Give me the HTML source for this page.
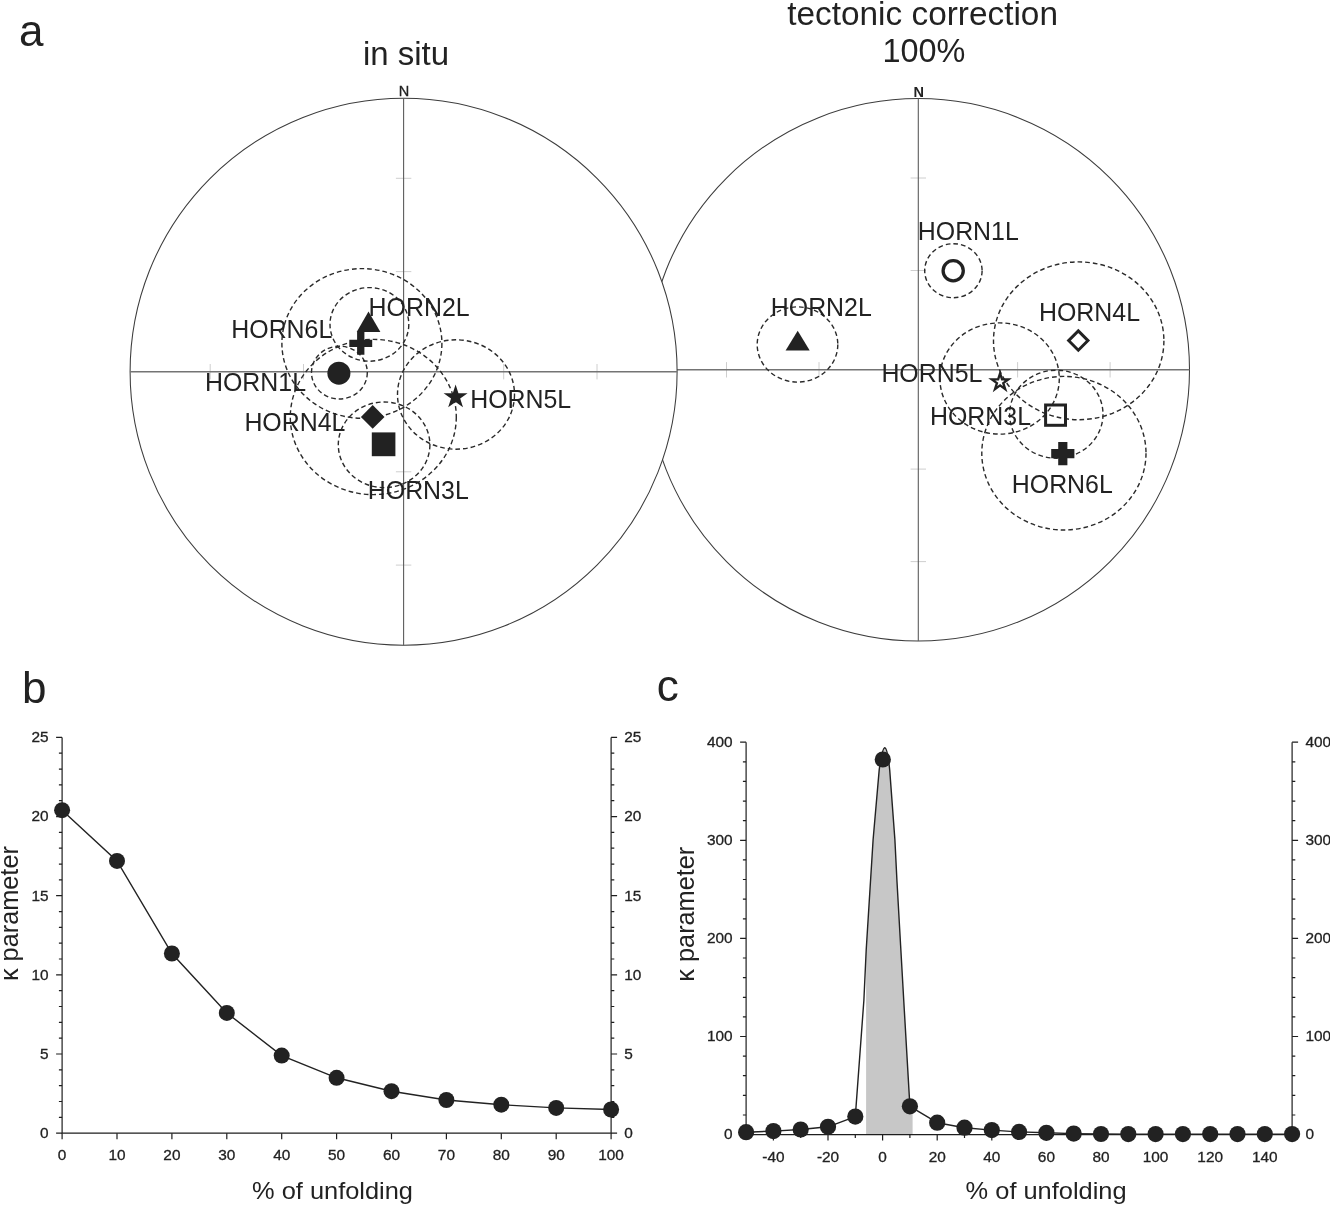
<!DOCTYPE html>
<html lang="en"><head><meta charset="utf-8"><title>Fold test figure</title>
<style>
html,body{margin:0;padding:0;background:#fff;}
body{width:1330px;height:1205px;overflow:hidden;}
svg{display:block;will-change:transform;}
text{font-family:"Liberation Sans", Arial, Helvetica, sans-serif;fill:#222;}
.lab{font-size:24.9px;}
.axl{font-size:23px;}
.tick{font-size:15.4px;stroke:#222;stroke-width:0.3px;}
.yl{font-size:25.3px;}
.ttl{font-size:33px;}
.pan{font-size:44px;}
.dash{fill:none;stroke:#2a2a2a;stroke-width:1.4;stroke-dasharray:4.7 3;}
.ax{stroke:#1e1e1e;stroke-width:1.2;fill:none;}
</style></head><body>
<svg width="1330" height="1205" viewBox="0 0 1330 1205">
<rect x="0" y="0" width="1330" height="1205" fill="#fff"/>
<circle cx="918.3" cy="369.8" r="271.2" fill="#fff" stroke="#3c3c3c" stroke-width="1.05"/>
<line x1="819.0" y1="362.1" x2="819.0" y2="377.5" stroke="#c8c8c8" stroke-width="0.9"/>
<line x1="910.6" y1="270.5" x2="926.0" y2="270.5" stroke="#c8c8c8" stroke-width="0.9"/>
<line x1="1017.6" y1="362.1" x2="1017.6" y2="377.5" stroke="#c8c8c8" stroke-width="0.9"/>
<line x1="910.6" y1="469.1" x2="926.0" y2="469.1" stroke="#c8c8c8" stroke-width="0.9"/>
<line x1="726.5" y1="362.1" x2="726.5" y2="377.5" stroke="#c8c8c8" stroke-width="0.9"/>
<line x1="910.6" y1="178.0" x2="926.0" y2="178.0" stroke="#c8c8c8" stroke-width="0.9"/>
<line x1="1110.1" y1="362.1" x2="1110.1" y2="377.5" stroke="#c8c8c8" stroke-width="0.9"/>
<line x1="910.6" y1="561.6" x2="926.0" y2="561.6" stroke="#c8c8c8" stroke-width="0.9"/>
<line x1="647.1" y1="369.8" x2="1189.5" y2="369.8" stroke="#747474" stroke-width="1.5"/>
<line x1="918.3" y1="98.6" x2="918.3" y2="641.0" stroke="#5c5c5c" stroke-width="1.1"/>
<circle cx="403.6" cy="371.7" r="273.5" fill="#fff" stroke="#3c3c3c" stroke-width="1.05"/>
<line x1="303.5" y1="364.0" x2="303.5" y2="379.4" stroke="#c8c8c8" stroke-width="0.9"/>
<line x1="395.9" y1="271.6" x2="411.3" y2="271.6" stroke="#c8c8c8" stroke-width="0.9"/>
<line x1="503.7" y1="364.0" x2="503.7" y2="379.4" stroke="#c8c8c8" stroke-width="0.9"/>
<line x1="395.9" y1="471.8" x2="411.3" y2="471.8" stroke="#c8c8c8" stroke-width="0.9"/>
<line x1="210.2" y1="364.0" x2="210.2" y2="379.4" stroke="#c8c8c8" stroke-width="0.9"/>
<line x1="395.9" y1="178.3" x2="411.3" y2="178.3" stroke="#c8c8c8" stroke-width="0.9"/>
<line x1="597.0" y1="364.0" x2="597.0" y2="379.4" stroke="#c8c8c8" stroke-width="0.9"/>
<line x1="395.9" y1="565.1" x2="411.3" y2="565.1" stroke="#c8c8c8" stroke-width="0.9"/>
<line x1="130.1" y1="371.7" x2="677.1" y2="371.7" stroke="#747474" stroke-width="1.5"/>
<line x1="403.6" y1="98.2" x2="403.6" y2="645.2" stroke="#5c5c5c" stroke-width="1.1"/>
<ellipse class="dash" cx="361.9" cy="343.4" rx="80.0" ry="74.8"/>
<ellipse class="dash" cx="369.4" cy="324.4" rx="39.4" ry="36.8"/>
<ellipse class="dash" cx="339.4" cy="372.6" rx="27.9" ry="26.4"/>
<ellipse class="dash" cx="373.3" cy="417.0" rx="83.0" ry="77.6"/>
<ellipse class="dash" cx="384.1" cy="444.8" rx="45.8" ry="42.8"/>
<ellipse class="dash" cx="456.0" cy="394.5" rx="58.5" ry="54.7"/>
<polygon fill="#222" points="368.5,311.6 380.4,332.0 356.7,332.0"/>
<path fill="#222" d="M357.1 331.9h7.3v7.8h7.8v7.3h-7.8v7.8h-7.3v-7.8h-7.8v-7.3h7.8z"/>
<circle cx="338.9" cy="373.2" r="11.5" fill="#222"/>
<polygon fill="#222" points="372.7,405.1 384.5,416.9 372.7,428.7 360.9,416.9"/>
<rect x="371.8" y="432.4" width="23.6" height="23.8" fill="#222"/>
<polygon fill="#222" points="455.60,384.50 458.43,393.21 467.58,393.21 460.18,398.59 463.01,407.29 455.60,401.91 448.19,407.29 451.02,398.59 443.62,393.21 452.77,393.21"/>
<text class="lab" x="368.6" y="315.6">HORN2L</text>
<text class="lab" x="231.3" y="338.4">HORN6L</text>
<text class="lab" x="205.0" y="391.4">HORN1L</text>
<text class="lab" x="244.4" y="430.7">HORN4L</text>
<text class="lab" x="470.2" y="408.0">HORN5L</text>
<text class="lab" x="367.8" y="499.0">HORN3L</text>
<ellipse class="dash" cx="953.4" cy="270.7" rx="28.7" ry="27.0"/>
<ellipse class="dash" cx="797.5" cy="344.5" rx="40.3" ry="37.6"/>
<ellipse class="dash" cx="1078.7" cy="340.8" rx="85.2" ry="78.9"/>
<ellipse class="dash" cx="999.6" cy="378.5" rx="59.7" ry="55.6"/>
<ellipse class="dash" cx="1056.3" cy="414.2" rx="46.7" ry="44.0"/>
<ellipse class="dash" cx="1063.9" cy="453.2" rx="82.1" ry="76.8"/>
<circle cx="953.2" cy="270.8" r="10.1" fill="none" stroke="#222" stroke-width="3.3"/>
<polygon fill="#222" points="797.7,330.8 809.7,350.4 785.6,350.4"/>
<polygon fill="none" stroke="#222" stroke-width="2.9" points="1078.3,330.9 1088.0,340.6 1078.3,350.3 1068.6,340.6"/>
<polygon fill="none" stroke="#222" stroke-width="2.35" stroke-linejoin="miter" points="1000.10,373.40 1002.05,379.41 1008.37,379.41 1003.26,383.13 1005.21,389.14 1000.10,385.42 994.99,389.14 996.94,383.13 991.83,379.41 998.15,379.41"/>
<rect x="1045.6" y="405.0" width="19.9" height="20.3" fill="none" stroke="#222" stroke-width="3.0"/>
<path fill="#222" d="M1058.2 442.1h9.2v7.0h7.0v9.2h-7.0v7.0h-9.2v-7.0h-7.0v-9.2h7.0z"/>
<text class="lab" x="917.8" y="239.6">HORN1L</text>
<text class="lab" x="770.8" y="315.6">HORN2L</text>
<text class="lab" x="1039.0" y="320.7">HORN4L</text>
<text class="lab" x="881.4" y="382.3">HORN5L</text>
<text class="lab" x="930.0" y="424.8">HORN3L</text>
<text class="lab" x="1011.8" y="492.5">HORN6L</text>
<text class="ttl" x="406" y="64.7" text-anchor="middle">in situ</text>
<text class="ttl" transform="translate(922.6 24.8) scale(1.03 1)" style="font-size:32.4px" text-anchor="middle">tectonic correction</text>
<text class="ttl" x="924" y="62.1" style="font-size:32.4px" text-anchor="middle">100%</text>
<text x="404" y="95.5" text-anchor="middle" style="font-size:14.5px;stroke:#222;stroke-width:0.3px">N</text>
<text x="918.8" y="96.7" text-anchor="middle" style="font-size:14.5px;font-weight:bold">N</text>
<text class="pan" x="19" y="46">a</text>
<text class="pan" x="22" y="703.4">b</text>
<text class="pan" x="656.8" y="700.8">c</text>
<path class="ax" d="M62.1 737.4V1133.2H611.1V737.4"/>
<path class="ax" d="M62.1 1133.2h-6.0M611.1 1133.2h6.0M62.1 1117.4h-3.2M611.1 1117.4h3.2M62.1 1101.5h-3.2M611.1 1101.5h3.2M62.1 1085.7h-3.2M611.1 1085.7h3.2M62.1 1069.9h-3.2M611.1 1069.9h3.2M62.1 1054.0h-6.0M611.1 1054.0h6.0M62.1 1038.2h-3.2M611.1 1038.2h3.2M62.1 1022.4h-3.2M611.1 1022.4h3.2M62.1 1006.5h-3.2M611.1 1006.5h3.2M62.1 990.7h-3.2M611.1 990.7h3.2M62.1 974.9h-6.0M611.1 974.9h6.0M62.1 959.0h-3.2M611.1 959.0h3.2M62.1 943.2h-3.2M611.1 943.2h3.2M62.1 927.4h-3.2M611.1 927.4h3.2M62.1 911.6h-3.2M611.1 911.6h3.2M62.1 895.7h-6.0M611.1 895.7h6.0M62.1 879.9h-3.2M611.1 879.9h3.2M62.1 864.1h-3.2M611.1 864.1h3.2M62.1 848.2h-3.2M611.1 848.2h3.2M62.1 832.4h-3.2M611.1 832.4h3.2M62.1 816.6h-6.0M611.1 816.6h6.0M62.1 800.7h-3.2M611.1 800.7h3.2M62.1 784.9h-3.2M611.1 784.9h3.2M62.1 769.1h-3.2M611.1 769.1h3.2M62.1 753.2h-3.2M611.1 753.2h3.2M62.1 737.4h-6.0M611.1 737.4h6.0M62.1 1133.2v6M117.0 1133.2v6M171.9 1133.2v6M226.8 1133.2v6M281.7 1133.2v6M336.6 1133.2v6M391.5 1133.2v6M446.4 1133.2v6M501.3 1133.2v6M556.2 1133.2v6M611.1 1133.2v6"/>
<text class="tick" x="48.6" y="1138.0" text-anchor="end">0</text>
<text class="tick" x="624.2" y="1138.0">0</text>
<text class="tick" x="48.6" y="1058.8" text-anchor="end">5</text>
<text class="tick" x="624.2" y="1058.8">5</text>
<text class="tick" x="48.6" y="979.7" text-anchor="end">10</text>
<text class="tick" x="624.2" y="979.7">10</text>
<text class="tick" x="48.6" y="900.5" text-anchor="end">15</text>
<text class="tick" x="624.2" y="900.5">15</text>
<text class="tick" x="48.6" y="821.4" text-anchor="end">20</text>
<text class="tick" x="624.2" y="821.4">20</text>
<text class="tick" x="48.6" y="742.2" text-anchor="end">25</text>
<text class="tick" x="624.2" y="742.2">25</text>
<text class="tick" x="62.1" y="1160.4" text-anchor="middle">0</text>
<text class="tick" x="117.0" y="1160.4" text-anchor="middle">10</text>
<text class="tick" x="171.9" y="1160.4" text-anchor="middle">20</text>
<text class="tick" x="226.8" y="1160.4" text-anchor="middle">30</text>
<text class="tick" x="281.7" y="1160.4" text-anchor="middle">40</text>
<text class="tick" x="336.6" y="1160.4" text-anchor="middle">50</text>
<text class="tick" x="391.5" y="1160.4" text-anchor="middle">60</text>
<text class="tick" x="446.4" y="1160.4" text-anchor="middle">70</text>
<text class="tick" x="501.3" y="1160.4" text-anchor="middle">80</text>
<text class="tick" x="556.2" y="1160.4" text-anchor="middle">90</text>
<text class="tick" x="611.1" y="1160.4" text-anchor="middle">100</text>
<polyline fill="none" stroke="#222" stroke-width="1.4" points="62.1,810.2 117.0,860.9 171.9,953.5 226.8,1012.9 281.7,1055.6 336.6,1077.8 391.5,1091.2 446.4,1100.0 501.3,1104.7 556.2,1107.9 611.1,1109.5"/>
<circle cx="62.1" cy="810.2" r="8.0" fill="#222"/>
<circle cx="117.0" cy="860.9" r="8.0" fill="#222"/>
<circle cx="171.9" cy="953.5" r="8.0" fill="#222"/>
<circle cx="226.8" cy="1012.9" r="8.0" fill="#222"/>
<circle cx="281.7" cy="1055.6" r="8.0" fill="#222"/>
<circle cx="336.6" cy="1077.8" r="8.0" fill="#222"/>
<circle cx="391.5" cy="1091.2" r="8.0" fill="#222"/>
<circle cx="446.4" cy="1100.0" r="8.0" fill="#222"/>
<circle cx="501.3" cy="1104.7" r="8.0" fill="#222"/>
<circle cx="556.2" cy="1107.9" r="8.0" fill="#222"/>
<circle cx="611.1" cy="1109.5" r="8.0" fill="#222"/>
<text class="axl" transform="translate(332.5 1198.7) scale(1.105 1)" text-anchor="middle">% of unfolding</text>
<text class="yl" transform="translate(18.0 913.6) rotate(-90)" text-anchor="middle">κ parameter</text>
<path fill="#c7c7c7" d="M866.1 1134.6 L866.1 951 L873.1 839.7 L879.2 769.9 C880.9 757 882.9 748 884.8 747.6 C886.7 748 888.4 757 889.7 769.9 L894.9 839.7 L896.9 880 L900.6 945.2 L904.3 1010 L909.9 1106.4 L912.6 1108.1 L912.6 1134.6 Z"/>
<path class="ax" d="M746.1 742.2V1134.6H1292.1V742.2"/>
<path class="ax" d="M746.1 1134.6h-6.0M1292.1 1134.6h6.0M746.1 1115.0h-3.2M1292.1 1115.0h3.2M746.1 1095.4h-3.2M1292.1 1095.4h3.2M746.1 1075.7h-3.2M1292.1 1075.7h3.2M746.1 1056.1h-3.2M1292.1 1056.1h3.2M746.1 1036.5h-6.0M1292.1 1036.5h6.0M746.1 1016.9h-3.2M1292.1 1016.9h3.2M746.1 997.3h-3.2M1292.1 997.3h3.2M746.1 977.6h-3.2M1292.1 977.6h3.2M746.1 958.0h-3.2M1292.1 958.0h3.2M746.1 938.4h-6.0M1292.1 938.4h6.0M746.1 918.8h-3.2M1292.1 918.8h3.2M746.1 899.2h-3.2M1292.1 899.2h3.2M746.1 879.5h-3.2M1292.1 879.5h3.2M746.1 859.9h-3.2M1292.1 859.9h3.2M746.1 840.3h-6.0M1292.1 840.3h6.0M746.1 820.7h-3.2M1292.1 820.7h3.2M746.1 801.1h-3.2M1292.1 801.1h3.2M746.1 781.4h-3.2M1292.1 781.4h3.2M746.1 761.8h-3.2M1292.1 761.8h3.2M746.1 742.2h-6.0M1292.1 742.2h6.0M746.1 1134.6v3.4M773.4 1134.6v6.0M800.7 1134.6v3.4M828.0 1134.6v6.0M855.3 1134.6v3.4M882.6 1134.6v6.0M909.9 1134.6v3.4M937.2 1134.6v6.0M964.5 1134.6v3.4M991.8 1134.6v6.0M1019.1 1134.6v3.4M1046.4 1134.6v6.0M1073.7 1134.6v3.4M1101.0 1134.6v6.0M1128.3 1134.6v3.4M1155.6 1134.6v6.0M1182.9 1134.6v3.4M1210.2 1134.6v6.0M1237.5 1134.6v3.4M1264.8 1134.6v6.0M1292.1 1134.6v3.4"/>
<text class="tick" x="732.6" y="1139.4" text-anchor="end">0</text>
<text class="tick" x="1305.4" y="1139.4">0</text>
<text class="tick" x="732.6" y="1041.3" text-anchor="end">100</text>
<text class="tick" x="1305.4" y="1041.3">100</text>
<text class="tick" x="732.6" y="943.2" text-anchor="end">200</text>
<text class="tick" x="1305.4" y="943.2">200</text>
<text class="tick" x="732.6" y="845.1" text-anchor="end">300</text>
<text class="tick" x="1305.4" y="845.1">300</text>
<text class="tick" x="732.6" y="747.0" text-anchor="end">400</text>
<text class="tick" x="1305.4" y="747.0">400</text>
<text class="tick" x="773.4" y="1162.2" text-anchor="middle">-40</text>
<text class="tick" x="828.0" y="1162.2" text-anchor="middle">-20</text>
<text class="tick" x="882.6" y="1162.2" text-anchor="middle">0</text>
<text class="tick" x="937.2" y="1162.2" text-anchor="middle">20</text>
<text class="tick" x="991.8" y="1162.2" text-anchor="middle">40</text>
<text class="tick" x="1046.4" y="1162.2" text-anchor="middle">60</text>
<text class="tick" x="1101.0" y="1162.2" text-anchor="middle">80</text>
<text class="tick" x="1155.6" y="1162.2" text-anchor="middle">100</text>
<text class="tick" x="1210.2" y="1162.2" text-anchor="middle">120</text>
<text class="tick" x="1264.8" y="1162.2" text-anchor="middle">140</text>
<path fill="none" stroke="#222" stroke-width="1.4" stroke-linejoin="round" d="M746.1 1132.2 L773.4 1131.1 L800.7 1129.5 L828.0 1126.8 L855.3 1116.6 L863.9 1000 L866.2 950 L873.1 839.7 L879.2 769.9 C880.9 757 882.9 748 884.8 747.6 C886.7 748 888.4 757 889.7 769.9 L894.9 839.7 L896.9 880 L900.6 945.2 L904.3 1010 L909.9 1106.4 L937.2 1122.7 L964.5 1127.7 L991.8 1130.1 L1019.1 1131.9 L1046.4 1132.8 L1073.7 1133.6 L1101.0 1134.0 L1128.3 1134.1 L1155.6 1134.1 L1182.9 1134.1 L1210.2 1134.1 L1237.5 1134.1 L1264.8 1134.1 L1292.1 1134.1"/>
<circle cx="746.1" cy="1132.2" r="8.1" fill="#222"/>
<circle cx="773.4" cy="1131.1" r="8.1" fill="#222"/>
<circle cx="800.7" cy="1129.5" r="8.1" fill="#222"/>
<circle cx="828.0" cy="1126.8" r="8.1" fill="#222"/>
<circle cx="855.3" cy="1116.6" r="8.1" fill="#222"/>
<circle cx="882.8" cy="759.5" r="8.1" fill="#222"/>
<circle cx="909.9" cy="1106.3" r="8.1" fill="#222"/>
<circle cx="937.2" cy="1122.7" r="8.1" fill="#222"/>
<circle cx="964.5" cy="1127.7" r="8.1" fill="#222"/>
<circle cx="991.8" cy="1130.1" r="8.1" fill="#222"/>
<circle cx="1019.1" cy="1131.9" r="8.1" fill="#222"/>
<circle cx="1046.4" cy="1132.8" r="8.1" fill="#222"/>
<circle cx="1073.7" cy="1133.6" r="8.1" fill="#222"/>
<circle cx="1101.0" cy="1134.0" r="8.1" fill="#222"/>
<circle cx="1128.3" cy="1134.1" r="8.1" fill="#222"/>
<circle cx="1155.6" cy="1134.1" r="8.1" fill="#222"/>
<circle cx="1182.9" cy="1134.1" r="8.1" fill="#222"/>
<circle cx="1210.2" cy="1134.1" r="8.1" fill="#222"/>
<circle cx="1237.5" cy="1134.1" r="8.1" fill="#222"/>
<circle cx="1264.8" cy="1134.1" r="8.1" fill="#222"/>
<circle cx="1292.1" cy="1134.1" r="8.1" fill="#222"/>
<text class="axl" transform="translate(1046.1 1198.8) scale(1.105 1)" text-anchor="middle">% of unfolding</text>
<text class="yl" transform="translate(694.2 914.2) rotate(-90)" text-anchor="middle">κ parameter</text>
</svg></body></html>
